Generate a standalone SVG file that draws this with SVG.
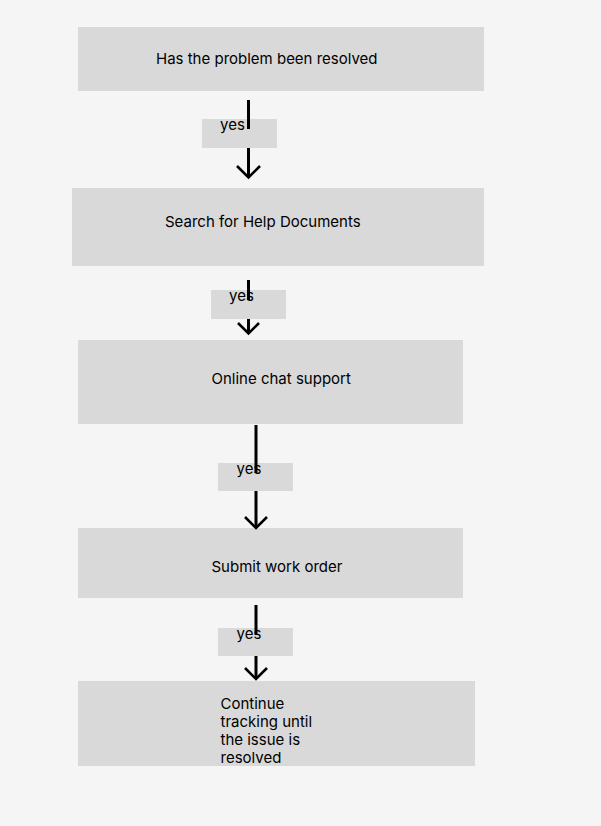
<svg xmlns="http://www.w3.org/2000/svg" width="601" height="826" viewBox="0 0 601 826">
<style>
.box{fill:#d9d9d9}
.lbl{fill:#d9d9d9}
.t{font-family:Inter,"Liberation Sans",sans-serif;font-size:15px;fill:#000}
.ln{stroke:#000;stroke-width:3;fill:none}
.hd{stroke:#000;stroke-width:2.6;fill:none;stroke-linecap:butt;stroke-linejoin:miter}
</style>
<rect width="601" height="826" fill="#f5f5f5"/>
<g id="node1"><rect class="box" x="78" y="27" width="406" height="64"/><text class="t" x="156" y="64">Has the problem been resolved</text></g>
<g id="node2"><rect class="box" x="72" y="188" width="412" height="78"/><text class="t" x="165" y="227">Search for Help Documents</text></g>
<g id="node3"><rect class="box" x="78" y="340" width="385" height="84"/><text class="t" x="211.5" y="384">Online chat support</text></g>
<g id="node4"><rect class="box" x="78" y="528" width="385" height="70"/><text class="t" x="211.5" y="572">Submit work order</text></g>
<g id="node5"><rect class="box" x="78" y="681" width="397" height="85"/><text class="t" x="220.5"><tspan x="220.5" y="709">Continue</tspan><tspan x="220.5" y="727">tracking until</tspan><tspan x="220.5" y="745">the issue is</tspan><tspan x="220.5" y="763">resolved</tspan></text></g>
<g id="connectors">
<g id="c1"><rect class="lbl" x="202" y="119" width="75" height="29"/><line class="ln" x1="248.5" y1="100" x2="248.5" y2="129"/><line class="ln" x1="248.5" y1="148" x2="248.5" y2="177"/><polyline class="hd" points="237,166 248.5,177.5 260,166"/><text class="t" x="220" y="129.5">yes</text></g>
<g id="c2"><rect class="lbl" x="211" y="290" width="75" height="29"/><line class="ln" x1="248.5" y1="280" x2="248.5" y2="300"/><line class="ln" x1="248.5" y1="319" x2="248.5" y2="333"/><polyline class="hd" points="238,323 248.5,333.5 259,323"/><text class="t" x="229" y="301">yes</text></g>
<g id="c3"><rect class="lbl" x="218" y="463" width="75" height="28"/><line class="ln" x1="256" y1="425" x2="256" y2="473"/><line class="ln" x1="256" y1="491" x2="256" y2="528"/><polyline class="hd" points="245,517 256,528 267,517"/><text class="t" x="236.5" y="473.5">yes</text></g>
<g id="c4"><rect class="lbl" x="218" y="628" width="75" height="28"/><line class="ln" x1="256" y1="605" x2="256" y2="635"/><line class="ln" x1="256" y1="656" x2="256" y2="679"/><polyline class="hd" points="245,668 256,679 267,668"/><text class="t" x="236.5" y="638.5">yes</text></g>
</g>
</svg>
